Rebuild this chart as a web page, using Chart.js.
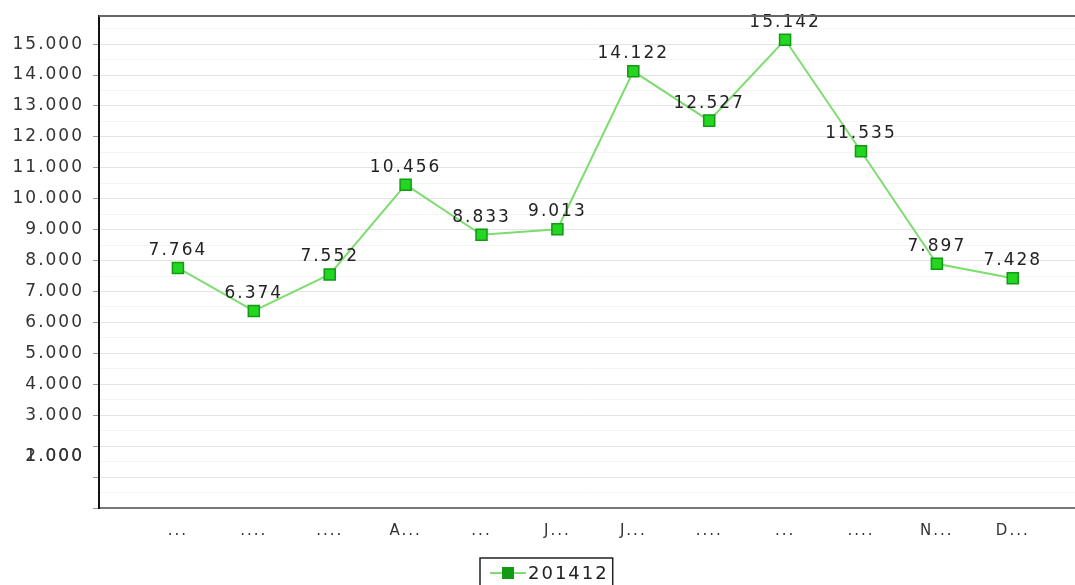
<!DOCTYPE html>
<html lang="de">
<head>
    <meta charset="UTF-8">
    <title>201412</title>
    <script src="https://cdn.jsdelivr.net/npm/chart.js"></script>
    <style>
        html, body { margin: 0; padding: 0; background: #fff; }
        #wrap { width: 1075px; height: 585px; position: relative; }
    </style>
</head>
<body>
    <div id="wrap"><canvas id="chart"></canvas></div>
    <script>
        // data
        const seriesName = '201412';
        const monthLabels = ['...', '....', '....', 'A...', '...', 'J...', 'J...', '....', '...', '....', 'N...', 'D...'];
        const values = [7764, 6374, 7552, 10456, 8833, 9013, 14122, 12527, 15142, 11535, 7897, 7428];
        const yTickValues = [3000, 4000, 5000, 6000, 7000, 8000, 9000, 10000, 11000, 12000, 13000, 14000, 15000];
        const yTickLabels = ['3.000', '4.000', '5.000', '6.000', '7.000', '8.000', '9.000', '10.000',
                             '11.000', '12.000', '13.000', '14.000', '15.000'];
        const overlapLabels = ['2.000', '1.000'];

        const FONT = '"DejaVu Sans", sans-serif';

        function fmt(v) {
            return String(v).replace(/\B(?=(\d{3})+(?!\d))/g, '.');
        }

        const spacing = {
            id: 'spacing',
            beforeUpdate(chart) { chart.ctx.letterSpacing = '2px'; },
            beforeDraw(chart) { chart.ctx.letterSpacing = '2px'; }
        };

        const extras = {
            id: 'extras',
            afterDatasetsDraw(chart) {
                const ctx = chart.ctx;
                const meta = chart.getDatasetMeta(0);
                ctx.save();
                ctx.font = '17px ' + FONT;
                ctx.fillStyle = '#222';
                ctx.textAlign = 'center';
                ctx.textBaseline = 'alphabetic';
                meta.data.forEach((pt, i) => {
                    ctx.fillText(fmt(values[i]), pt.x, pt.y - 13);
                });
                ctx.restore();
            },
            afterDraw(chart) {
                const ctx = chart.ctx;
                const area = chart.chartArea;
                const y = chart.scales.y;
                ctx.save();
                // the overlapped labels below 3.000
                ctx.font = '17px ' + FONT;
                ctx.fillStyle = '#333';
                ctx.textAlign = 'right';
                ctx.textBaseline = 'middle';
                const ly = y.getPixelForValue(1650);
                overlapLabels.forEach(t => ctx.fillText(t, 84, ly));
                // top frame line
                ctx.strokeStyle = '#666';
                ctx.lineWidth = 2;
                ctx.beginPath();
                ctx.moveTo(area.left, area.top);
                ctx.lineTo(chart.width, area.top);
                ctx.stroke();
                // legend box
                ctx.font = '18px ' + FONT;
                const tw = ctx.measureText(seriesName).width;
                const bx = 480, by = 558, bw = tw + 52, bh = 30;
                ctx.strokeStyle = '#222';
                ctx.lineWidth = 1.5;
                ctx.strokeRect(bx, by, bw, bh);
                ctx.strokeStyle = '#7edc70';
                ctx.lineWidth = 2;
                ctx.beginPath();
                ctx.moveTo(bx + 10, 573);
                ctx.lineTo(bx + 46, 573);
                ctx.stroke();
                ctx.fillStyle = '#139a13';
                ctx.fillRect(bx + 22, 567, 12, 12);
                ctx.fillStyle = '#222';
                ctx.textAlign = 'left';
                ctx.textBaseline = 'middle';
                ctx.fillText(seriesName, bx + 48, 574);
                ctx.restore();
            }
        };

        new Chart(document.getElementById('chart'), {
            type: 'line',
            data: {
                datasets: [{
                    label: seriesName,
                    data: values.map((v, i) => ({ x: i, y: v })),
                    borderColor: '#7edc70',
                    borderWidth: 2,
                    pointStyle: 'rect',
                    pointRadius: 7.8,
                    pointBackgroundColor: '#22d622',
                    pointBorderColor: '#129a12',
                    pointBorderWidth: 1.5,
                    tension: 0,
                    fill: false
                }]
            },
            options: {
                responsive: true,
                maintainAspectRatio: false,
                animation: false,
                events: [],
                layout: { autoPadding: false, padding: { top: 16, right: 0, left: 0, bottom: 0 } },
                plugins: {
                    legend: { display: false },
                    tooltip: { enabled: false }
                },
                scales: {
                    x: {
                        type: 'linear',
                        min: -1.04,
                        max: 11.82,
                        afterBuildTicks: axis => {
                            axis.ticks = monthLabels.map((_, i) => ({ value: i }));
                        },
                        afterFit: scale => {
                            scale.height = 77;
                            scale.paddingLeft = 0;
                            scale.paddingRight = 0;
                        },
                        grid: { display: false },
                        border: { display: true, color: '#777', width: 2 },
                        ticks: {
                            autoSkip: false,
                            maxRotation: 0,
                            padding: 6,
                            color: '#333',
                            font: { family: FONT, size: 15 },
                            callback: v => monthLabels[v] ?? ''
                        }
                    },
                    y: {
                        min: 0,
                        max: 15910,
                        afterBuildTicks: axis => {
                            const t = [];
                            for (let v = 0; v <= 15500; v += 500) t.push({ value: v });
                            axis.ticks = t;
                        },
                        afterFit: scale => {
                            scale.width = 99;
                            scale.paddingTop = 0;
                            scale.paddingBottom = 0;
                        },
                        border: { display: true, color: '#111', width: 2 },
                        grid: {
                            color: c => (c.tick && c.tick.value % 1000 === 0) ? '#e4e4e4' : '#f4f4f4',
                            tickColor: c => (c.tick && c.tick.value % 1000 === 0) ? '#999' : 'rgba(0,0,0,0)',
                            tickLength: 6,
                            lineWidth: 1
                        },
                        ticks: {
                            autoSkip: false,
                            padding: 9,
                            color: '#333',
                            font: { family: FONT, size: 17 },
                            callback: v => {
                                const k = yTickValues.indexOf(v);
                                return k >= 0 ? yTickLabels[k] : '';
                            }
                        }
                    }
                }
            },
            plugins: [spacing, extras]
        });
    </script>
</body>
</html>
